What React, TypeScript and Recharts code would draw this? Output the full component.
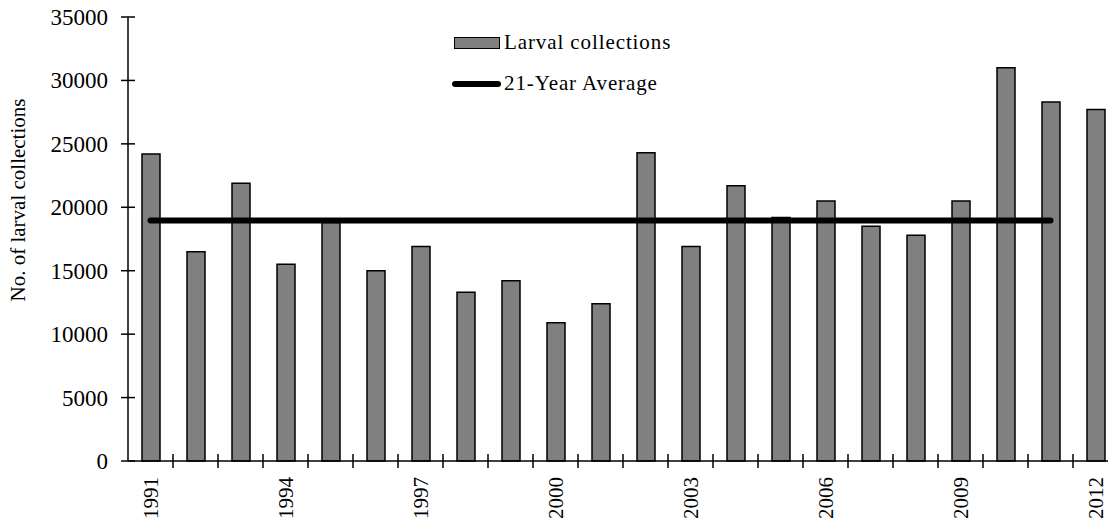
import { Bar, ComposedChart, Legend, Line, XAxis, YAxis } from "recharts";

const YEARS = [
  "1991", "1992", "1993", "1994", "1995", "1996", "1997", "1998", "1999", "2000", "2001",
  "2002", "2003", "2004", "2005", "2006", "2007", "2008", "2009", "2010", "2011", "2012",
];

const LARVAL_COLLECTIONS = [
  24200, 16500, 21900, 15500, 18800, 15000, 16900, 13300, 14200, 10900, 12400,
  24300, 16900, 21700, 19200, 20500, 18500, 17800, 20500, 31000, 28300, 27700,
];

// long-term mean, drawn across the first 21 seasons only
const AVERAGE_21YR = 18950;
const AVERAGE_SPAN = 21;

const Y_TICKS = [0, 5000, 10000, 15000, 20000, 25000, 30000, 35000];

const FONT = '"Liberation Serif", "Times New Roman", Times, serif';

const data = YEARS.map((year, i) => ({
  year,
  larval: LARVAL_COLLECTIONS[i],
  average: i < AVERAGE_SPAN ? AVERAGE_21YR : null,
}));

function YTick({ x, y, payload }: any) {
  return (
    <g>
      <line x1={x - 7} x2={x + 7} y1={y} y2={y} stroke="#000" strokeWidth={1.5} />
      <text x={x - 20} y={y} dy="0.35em" textAnchor="end" fontSize={23} fill="#000" fontFamily={FONT}>
        {payload.value}
      </text>
    </g>
  );
}

function XTick({ x, y, payload, index }: any) {
  const half = payload.offset || 22.5;
  const last = index === YEARS.length - 1;
  const ly = y + 16;
  return (
    <g>
      {!last && (
        <line x1={x + half} x2={x + half} y1={y - 7} y2={y + 7} stroke="#000" strokeWidth={1.5} />
      )}
      {index % 3 === 0 && (
        <text
          x={x}
          y={ly}
          dy="0.35em"
          transform={`rotate(-90, ${x}, ${ly})`}
          textAnchor="end"
          fontSize={21}
          fill="#000"
          fontFamily={FONT}
        >
          {payload.value}
        </text>
      )}
    </g>
  );
}

function YLabel({ viewBox }: any) {
  const x = viewBox.x + 25;
  const y = 200;
  return (
    <text x={x} y={y} transform={`rotate(-90, ${x}, ${y})`} textAnchor="middle" fontSize={21} fill="#000" fontFamily={FONT}>
      No. of larval collections
    </text>
  );
}

function ChartLegend({ payload }: any) {
  const items = [...(payload || [])].sort((a: any, b: any) => (a.type === "line" ? 1 : 0) - (b.type === "line" ? 1 : 0));
  return (
    <div style={{ fontFamily: FONT, fontSize: 21, color: "#000", letterSpacing: 0.9 }}>
      {items.map((entry: any) => (
        <div key={entry.value} style={{ display: "flex", alignItems: "center", height: 41 }}>
          <span style={{ width: 50, display: "flex", alignItems: "center" }}>
            {entry.type === "line" ? (
              <span style={{ width: 49, height: 6, borderRadius: 3, background: "#000" }} />
            ) : (
              <span
                style={{
                  marginLeft: 2,
                  width: 44,
                  height: 10,
                  background: "#808080",
                  border: "1.5px solid #000",
                }}
              />
            )}
          </span>
          <span style={{ marginLeft: 2, whiteSpace: "nowrap" }}>{entry.value}</span>
        </div>
      ))}
    </div>
  );
}

export default function App() {
  return (
    <div
      style={{
        position: "absolute",
        left: 0,
        top: 0,
        width: 1108,
        height: 525,
        overflow: "hidden",
        background: "#fff",
        fontFamily: FONT,
      }}
    >
      <ComposedChart
        width={1130}
        height={525}
        data={data}
        margin={{ top: 17, right: 12, bottom: 0, left: 0 }}
        style={{ fontFamily: FONT }}
      >
        <XAxis
          dataKey="year"
          height={64}
          interval={0}
          tickSize={0}
          tickMargin={0}
          tickLine={false}
          tick={<XTick />}
          axisLine={{ stroke: "#000", strokeWidth: 1.5 }}
        />
        <YAxis
          width={128}
          domain={[0, 35000]}
          ticks={Y_TICKS}
          tickSize={0}
          tickMargin={0}
          tickLine={false}
          tick={<YTick />}
          axisLine={{ stroke: "#000", strokeWidth: 1.5 }}
          label={<YLabel />}
        />
        <Legend
          layout="vertical"
          align="center"
          verticalAlign="middle"
          content={<ChartLegend />}
          wrapperStyle={{ top: 22, left: 452, width: 320, height: 90 }}
        />
        <Bar
          dataKey="larval"
          name="Larval collections"
          legendType="rect"
          barSize={18}
          fill="#808080"
          stroke="#000"
          strokeWidth={1.5}
          isAnimationActive={false}
        />
        <Line
          dataKey="average"
          name="21-Year Average"
          legendType="line"
          type="linear"
          stroke="#000"
          strokeWidth={6}
          strokeLinecap="round"
          dot={false}
          activeDot={false}
          isAnimationActive={false}
        />
      </ComposedChart>
    </div>
  );
}
